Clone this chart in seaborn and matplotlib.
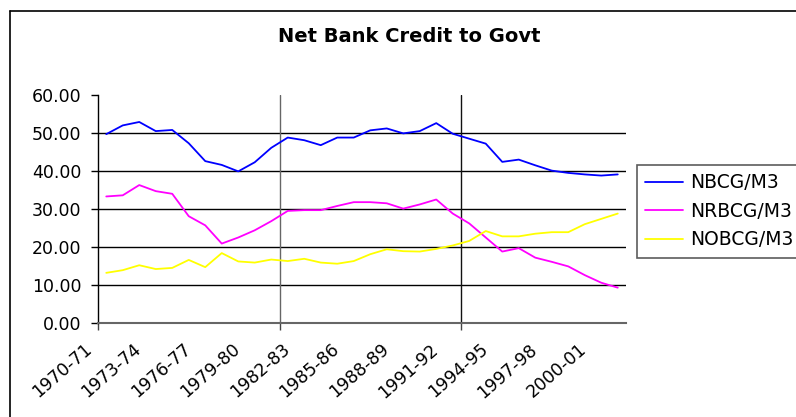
import numpy as np
import pandas as pd
import matplotlib
matplotlib.use("Agg")
import matplotlib.pyplot as plt
import matplotlib.transforms as mtransforms
from matplotlib.lines import Line2D
import seaborn as sns

# Financial years on the category axis
years = [
    "1970-71", "1971-72", "1972-73", "1973-74", "1974-75", "1975-76", "1976-77", "1977-78",
    "1978-79", "1979-80", "1980-81", "1981-82", "1982-83", "1983-84", "1984-85", "1985-86",
    "1986-87", "1987-88", "1988-89", "1989-90", "1990-91", "1991-92", "1992-93", "1993-94",
    "1994-95", "1995-96", "1996-97", "1997-98", "1998-99", "1999-00", "2000-01", "2001-02",
]

# Ratios to M3 (per cent)
nbcg = [49.7, 52.0, 52.9, 50.5, 50.8, 47.3, 42.6, 41.6, 39.9, 42.3, 46.1, 48.8, 48.1, 46.8, 48.8, 48.8,
        50.7, 51.2, 49.9, 50.5, 52.6, 49.8, 48.5, 47.2, 42.4, 43.0, 41.5, 40.1, 39.5, 39.1, 38.8, 39.1]
nrbcg = [33.3, 33.6, 36.3, 34.7, 34.0, 28.1, 25.7, 20.9, 22.5, 24.4, 26.8, 29.5, 29.7, 29.7, 30.8, 31.8,
         31.8, 31.5, 30.1, 31.2, 32.5, 28.8, 26.2, 22.5, 18.8, 19.7, 17.2, 16.1, 14.9, 12.6, 10.6, 9.3]
nobcg = [13.2, 13.9, 15.2, 14.2, 14.5, 16.6, 14.7, 18.4, 16.2, 15.9, 16.7, 16.3, 16.9, 15.9, 15.6, 16.3,
         18.1, 19.4, 18.9, 18.8, 19.5, 20.4, 21.6, 24.2, 22.8, 22.8, 23.5, 23.9, 23.9, 26.0, 27.4, 28.8]

series_names = ["NBCG/M3", "NRBCG/M3", "NOBCG/M3"]
series_colors = ["#0000FF", "#FF00FF", "#FFFF00"]
y_ticks = [0, 10, 20, 30, 40, 50, 60]
label_step = 3
tick_every = 11

df = pd.DataFrame({
    "idx": np.tile(np.arange(len(years)), 3),
    "value": nbcg + nrbcg + nobcg,
    "series": np.repeat(series_names, len(years)),
})

sns.set_style("white")
plt.rcParams["font.family"] = ["DejaVu Sans"]
plt.rcParams["text.color"] = "black"
plt.rcParams["xtick.color"] = "black"
plt.rcParams["ytick.color"] = "black"

W, H = 796, 417
fig = plt.figure(figsize=(W / 100, H / 100), dpi=100)

# chart-area border: left and top edges
fig.add_artist(Line2D([9.5 / W, 9.5 / W], [0, 1 - 11 / H], transform=fig.transFigure,
                      color="black", linewidth=1.2))
fig.add_artist(Line2D([9.5 / W, 1], [1 - 11 / H, 1 - 11 / H], transform=fig.transFigure,
                      color="black", linewidth=1.2))

ax = fig.add_axes([98 / W, 1 - 323 / H, 528 / W, (323 - 95) / H])

n = len(years)
ax.set_xlim(-0.5, n - 0.5)
ax.set_ylim(y_ticks[0], y_ticks[-1])

# horizontal gridlines
for v in y_ticks[1:-1]:
    ax.axhline(v, color="black", linewidth=1.0, zorder=1)

# category-axis tick marks / vertical gridlines
vticks = np.arange(-0.5, n - 0.5, tick_every)
ax.axvline(vticks[1], color="#666666", linewidth=1.0, zorder=1)
ax.axvline(vticks[2], color="#111111", linewidth=1.0, zorder=1)

sns.lineplot(data=df, x="idx", y="value", hue="series", hue_order=series_names,
             palette=series_colors, linewidth=1.3, ax=ax, zorder=3)

ax.set_xlabel("")
ax.set_ylabel("")

ax.set_yticks(y_ticks)
ax.set_yticklabels([f"{v:.2f}" for v in y_ticks], fontsize=12.5)
ax.tick_params(axis="y", direction="out", length=5, width=1, color="black", pad=7, left=True)

label_pos = list(range(0, n, label_step))
ax.set_xticks(label_pos)
ax.set_xticklabels([years[i] for i in label_pos], fontsize=12.5, rotation=41,
                   ha="right", va="center", rotation_mode="anchor")
ax.tick_params(axis="x", which="major", length=0, pad=0)
ax.set_xticks(vticks, minor=True)
ax.tick_params(axis="x", which="minor", direction="out", length=5, width=1, color="#444444", bottom=True)

offset = mtransforms.ScaledTranslation(-0.17, -0.24, fig.dpi_scale_trans)
for lab in ax.get_xticklabels():
    lab.set_transform(lab.get_transform() + offset)

for side in ["top", "right"]:
    ax.spines[side].set_visible(False)
ax.spines["left"].set_color("black")
ax.spines["left"].set_linewidth(1.0)
ax.spines["bottom"].set_color("#666666")
ax.spines["bottom"].set_linewidth(1.5)

sns.move_legend(ax, loc="upper left", bbox_to_anchor=((637 - 98) / 528, (323 - 165) / 228),
                title=None, frameon=True, fontsize=13.5, handlelength=2.0, handletextpad=0.4,
                labelspacing=0.5, borderpad=0.45, borderaxespad=0, fancybox=False)
leg = ax.get_legend()
leg.get_frame().set_edgecolor("#333333")
leg.get_frame().set_linewidth(1.2)
for h in leg.get_lines():
    h.set_linewidth(1.3)

fig.text(409 / W, 1 - 37 / H, "Net Bank Credit to Govt", ha="center", va="center",
         fontsize=14, fontweight="bold", color="black")

fig.savefig("out.png", dpi=100)
